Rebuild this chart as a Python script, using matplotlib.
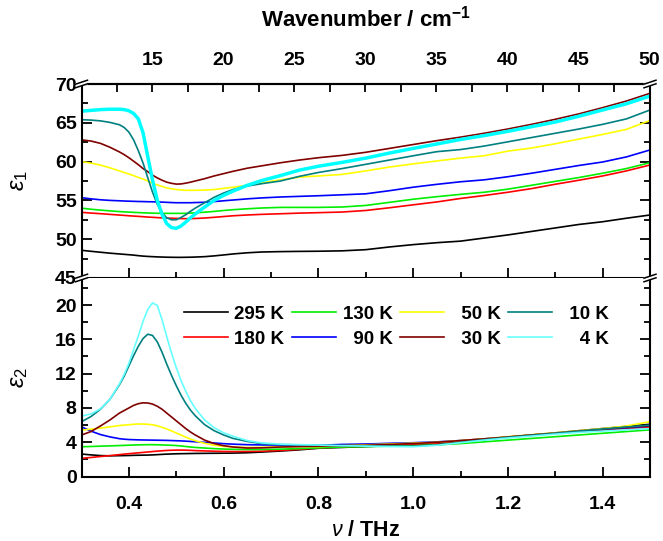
import matplotlib
matplotlib.use('Agg')
import matplotlib.pyplot as plt
from matplotlib.ticker import FixedLocator, MultipleLocator
from matplotlib.lines import Line2D
import numpy as np

plt.rcParams['font.family'] = ['Liberation Sans', 'DejaVu Sans']
plt.rcParams['font.weight'] = 'bold'
plt.rcParams['mathtext.fontset'] = 'custom'
plt.rcParams['mathtext.it'] = 'Liberation Sans:style=italic:weight=normal'
plt.rcParams['mathtext.rm'] = 'Liberation Sans:weight=normal'
plt.rcParams['mathtext.bf'] = 'Liberation Sans:weight=bold'

# frequency grid (THz)
nu = np.array([0.30, 0.32, 0.34, 0.36, 0.38, 0.39, 0.40, 0.41, 0.42, 0.43,
               0.44, 0.45, 0.46, 0.47, 0.48, 0.49, 0.50, 0.51, 0.52, 0.53,
               0.54, 0.56, 0.58, 0.60, 0.62, 0.65, 0.68, 0.72, 0.76, 0.80,
               0.85, 0.90, 0.95, 1.00, 1.05, 1.10, 1.15, 1.20, 1.25, 1.30,
               1.35, 1.40, 1.45, 1.50])

temps = ['295 K', '180 K', '130 K', '90 K', '50 K', '30 K', '10 K', '4 K']
colors = ['#000000', '#ff0000', '#00ee00', '#0000ff', '#ffff00', '#800000', '#008080', '#00ffff']

# eps1
e1_295 = [48.57, 48.44, 48.32, 48.2, 48.1, 48.05, 48.0, 47.95, 47.88, 47.82,
          47.78, 47.75, 47.72, 47.7, 47.68, 47.67, 47.66, 47.66, 47.67, 47.68,
          47.7, 47.75, 47.85, 47.97, 48.1, 48.25, 48.35, 48.4, 48.43, 48.45,
          48.5, 48.65, 49.0, 49.3, 49.55, 49.75, 50.15, 50.55, 51.0, 51.45,
          51.9, 52.25, 52.7, 53.12]
e1_180 = [53.46, 53.37, 53.29, 53.2, 53.11, 53.07, 53.02, 52.98, 52.94, 52.9,
          52.85, 52.82, 52.78, 52.75, 52.72, 52.7, 52.68, 52.66, 52.64, 52.65,
          52.67, 52.73, 52.82, 52.92, 53.02, 53.12, 53.2, 53.28, 53.36, 53.42,
          53.5, 53.7, 54.05, 54.43, 54.8, 55.25, 55.63, 56.05, 56.52, 57.08,
          57.6, 58.15, 58.8, 59.56]
e1_130 = [54.0, 53.86, 53.75, 53.65, 53.56, 53.52, 53.49, 53.46, 53.43, 53.4,
          53.38, 53.36, 53.34, 53.33, 53.33, 53.33, 53.33, 53.33, 53.33, 53.36,
          53.4, 53.48, 53.58, 53.7, 53.8, 53.92, 54.02, 54.1, 54.1, 54.1,
          54.15, 54.35, 54.75, 55.15, 55.48, 55.78, 56.05, 56.45, 56.95, 57.45,
          57.95, 58.5, 59.1, 59.86]
e1_90 = [55.35, 55.2, 55.08, 55.0, 54.95, 54.92, 54.9, 54.88, 54.86, 54.85,
         54.83, 54.82, 54.8, 54.78, 54.75, 54.72, 54.7, 54.7, 54.7, 54.7,
         54.72, 54.76, 54.85, 54.95, 55.05, 55.2, 55.32, 55.44, 55.52, 55.6,
         55.72, 55.85, 56.25, 56.7, 57.07, 57.4, 57.65, 58.05, 58.5, 59.0,
         59.5, 59.95, 60.6, 61.5]
e1_50 = [60.0, 59.8, 59.55, 59.2, 58.8, 58.6, 58.4, 58.2, 57.95, 57.75,
         57.5, 57.2, 57.0, 56.8, 56.6, 56.5, 56.4, 56.35, 56.3, 56.3,
         56.3, 56.33, 56.4, 56.55, 56.7, 56.95, 57.25, 57.65, 58.0, 58.15,
         58.35, 58.8, 59.3, 59.7, 60.08, 60.45, 60.75, 61.35, 61.75, 62.3,
         62.9, 63.5, 64.15, 65.3]
e1_30 = [62.8, 62.65, 62.35, 61.85, 61.25, 60.9, 60.5, 60.05, 59.6, 59.1,
         58.7, 58.25, 57.9, 57.6, 57.35, 57.2, 57.1, 57.12, 57.22, 57.35,
         57.5, 57.8, 58.15, 58.45, 58.75, 59.15, 59.45, 59.85, 60.2, 60.5,
         60.8, 61.2, 61.7, 62.2, 62.7, 63.15, 63.65, 64.2, 64.8, 65.45,
         66.15, 66.95, 67.8, 68.8]
e1_10 = [65.4, 65.35, 65.25, 65.05, 64.75, 64.4, 63.8, 62.8, 61.4, 59.8,
         57.9, 56.05, 54.5, 53.4, 52.75, 52.5, 52.5, 52.8, 53.15, 53.6,
         54.0, 54.7, 55.4, 55.95, 56.4, 56.85, 57.15, 57.5, 58.1, 58.6,
         59.1, 59.65, 60.2, 60.75, 61.28, 61.55, 62.0, 62.55, 63.1, 63.65,
         64.2, 64.8, 65.5, 66.65]
e1_4 = [66.5, 66.6, 66.7, 66.75, 66.75, 66.7, 66.55, 66.2, 65.5, 63.7,
        60.6, 57.6, 55.0, 53.2, 52.0, 51.5, 51.4, 51.7, 52.2, 52.75,
        53.25, 54.15, 55.0, 55.65, 56.2, 56.95, 57.55, 58.2, 58.9, 59.4,
        59.9, 60.45, 61.1, 61.7, 62.27, 62.85, 63.35, 63.9, 64.5, 65.1,
        65.85, 66.65, 67.45, 68.45]

# eps2
e2_295 = [2.63, 2.53, 2.45, 2.42, 2.44, 2.45, 2.46, 2.48, 2.49, 2.5,
          2.51, 2.53, 2.56, 2.59, 2.62, 2.64, 2.66, 2.67, 2.68, 2.69,
          2.7, 2.71, 2.72, 2.73, 2.74, 2.78, 2.86, 2.98, 3.12, 3.3,
          3.4, 3.5, 3.6, 3.7, 3.85, 4.1, 4.35, 4.6, 4.85, 5.1,
          5.35, 5.6, 5.85, 6.1]
e2_180 = [2.13, 2.23, 2.34, 2.45, 2.56, 2.62, 2.67, 2.72, 2.77, 2.82,
          2.87, 2.92, 2.97, 3.01, 3.05, 3.07, 3.09, 3.09, 3.08, 3.06,
          3.03, 2.99, 2.96, 2.93, 2.92, 2.93, 2.96, 3.05, 3.18, 3.35,
          3.45, 3.55, 3.65, 3.75, 3.9, 4.12, 4.35, 4.6, 4.85, 5.05,
          5.25, 5.45, 5.6, 5.75]
e2_130 = [3.48, 3.51, 3.55, 3.58, 3.62, 3.64, 3.66, 3.68, 3.7, 3.71,
          3.72, 3.72, 3.71, 3.69, 3.67, 3.65, 3.62, 3.57, 3.51, 3.45,
          3.4, 3.33, 3.26, 3.21, 3.18, 3.16, 3.16, 3.2, 3.27, 3.35,
          3.45, 3.5, 3.55, 3.6, 3.7, 3.85, 4.05, 4.25, 4.45, 4.65,
          4.85, 5.05, 5.25, 5.45]
e2_90 = [5.8, 5.3, 4.9, 4.63, 4.42, 4.36, 4.32, 4.3, 4.28, 4.27,
         4.26, 4.25, 4.24, 4.23, 4.22, 4.2, 4.18, 4.16, 4.13, 4.1,
         4.06, 3.99, 3.92, 3.84, 3.78, 3.72, 3.69, 3.68, 3.66, 3.65,
         3.75, 3.8, 3.88, 3.95, 4.05, 4.2, 4.4, 4.6, 4.85, 5.05,
         5.28, 5.5, 5.7, 5.9]
e2_50 = [5.43, 5.52, 5.65, 5.8, 5.95, 6.0, 6.05, 6.1, 6.13, 6.13,
         6.1, 6.04, 5.92, 5.75, 5.55, 5.33, 5.08, 4.85, 4.6, 4.38,
         4.18, 3.88, 3.65, 3.52, 3.45, 3.4, 3.42, 3.47, 3.5, 3.5,
         3.6, 3.7, 3.8, 3.9, 4.0, 4.2, 4.4, 4.65, 4.88, 5.1,
         5.35, 5.6, 5.9, 6.4]
e2_30 = [4.85, 5.25, 5.9, 6.6, 7.4, 7.7, 8.0, 8.3, 8.5, 8.6,
         8.58, 8.45, 8.2, 7.85, 7.4, 6.95, 6.5, 6.05, 5.6, 5.2,
         4.85, 4.25, 3.85, 3.6, 3.45, 3.33, 3.35, 3.45, 3.5, 3.55,
         3.6, 3.65, 3.75, 3.85, 4.0, 4.2, 4.4, 4.62, 4.85, 5.05,
         5.3, 5.5, 5.75, 5.95]
e2_10 = [6.4, 7.0, 7.85, 9.0, 10.7, 11.7, 12.9, 14.1, 15.2, 16.1,
         16.6, 16.45, 15.7, 14.5, 13.1, 11.8, 10.6, 9.5, 8.55, 7.75,
         7.1, 6.05, 5.35, 4.85, 4.45, 4.1, 3.85, 3.73, 3.7, 3.67,
         3.62, 3.58, 3.55, 3.55, 3.7, 4.0, 4.3, 4.58, 4.82, 5.05,
         5.3, 5.55, 5.78, 6.0]
e2_4 = [7.05, 7.3, 7.9, 9.0, 10.8, 11.9, 13.2, 14.8, 16.4, 18.1,
        19.5, 20.25, 19.95, 18.3, 16.3, 14.4, 12.7, 11.2, 9.95, 8.85,
        7.95, 6.6, 5.7, 5.1, 4.7, 4.2, 3.92, 3.78, 3.72, 3.68,
        3.6, 3.55, 3.5, 3.48, 3.65, 3.95, 4.25, 4.5, 4.72, 4.95,
        5.15, 5.3, 5.45, 5.6]

eps1 = [e1_295, e1_180, e1_130, e1_90, e1_50, e1_30, e1_10, e1_4]
eps2 = [e2_295, e2_180, e2_130, e2_90, e2_50, e2_30, e2_10, e2_4]

W, H = 663, 541
fig = plt.figure(figsize=(W / 100, H / 100), dpi=100)
L, R, T, M, B = 81.5, 650, 84, 278, 476.6
ax1 = fig.add_axes([L / W, 1 - M / H, (R - L) / W, (M - T) / H])
ax2 = fig.add_axes([L / W, 1 - B / H, (R - L) / W, (B - M) / H])

for i in range(8):
    lw = 2.5 if i == 7 else 1.2
    ax1.plot(nu, eps1[i], color=colors[i], lw=lw)
    c2 = '#66ffff' if i == 7 else colors[i]
    ax2.plot(nu, eps2[i], color=c2, lw=1.2, label=temps[i])

for ax in (ax1, ax2):
    ax.set_xlim(0.3, 1.5)
    ax.xaxis.set_major_locator(FixedLocator([0.4, 0.6, 0.8, 1.0, 1.2, 1.4]))
    ax.xaxis.set_minor_locator(MultipleLocator(0.1))
    for s in ax.spines.values():
        s.set_linewidth(1.5)
    ax.tick_params(which='both', direction='in', width=1.3, labelsize=14, left=True, right=True)
    ax.tick_params(which='major', length=7)
    ax.tick_params(which='minor', length=4)

ax1.set_ylim(45, 70)
ax1.yaxis.set_major_locator(MultipleLocator(5))
ax1.yaxis.set_minor_locator(MultipleLocator(2.5))
ax1.tick_params(axis='x', which='both', top=False, bottom=True, labelbottom=False)

ax2.set_ylim(0, 23.15)
ax2.yaxis.set_major_locator(MultipleLocator(4))
ax2.yaxis.set_minor_locator(MultipleLocator(2))
ax2.spines['top'].set_visible(False)
ax2.tick_params(axis='x', which='both', top=False)
ax2.tick_params(axis='x', pad=14)

sec = ax1.secondary_xaxis('top', functions=(lambda f: f * 33.356, lambda k: k / 33.356))
sec.xaxis.set_major_locator(FixedLocator([15, 20, 25, 30, 35, 40, 45, 50]))
sec.xaxis.set_minor_locator(FixedLocator([12.5, 17.5, 22.5, 27.5, 32.5, 37.5, 42.5, 47.5]))
sec.tick_params(which='both', direction='in', length=6, width=1.3, labelsize=14, pad=11)
sec.spines['top'].set_linewidth(1.5)
sec.set_xlabel('Wavenumber / cm$^{\\mathbf{-1}}$', fontsize=16, fontweight='bold', labelpad=18)

ax1.set_ylabel(r'$\varepsilon_1$', fontsize=17)
ax1.yaxis.set_label_coords(-0.09, 0.5)
ax2.set_ylabel(r'$\varepsilon_2$', fontsize=17)
ax2.yaxis.set_label_coords(-0.09, 0.5)
ax2.set_xlabel(r'$\nu$ / THz', fontsize=15.5, fontweight='bold', labelpad=5)

leg = ax2.legend(ncol=4, loc='upper left', bbox_to_anchor=(0.18, 0.86), frameon=False,
                 fontsize=13.5, handlelength=2.35, handletextpad=0.35, columnspacing=0.4,
                 labelspacing=0.4, borderpad=0, borderaxespad=0)
for t in leg.get_texts():
    t.set_text(t.get_text().rjust(5, '\u2007'))

# axis break marks
for px, py in [(L, T), (R, T), (L, M), (R, M)]:
    fig.add_artist(Line2D([(px - 4) / W, (px + 4) / W], [1 - (py + 1) / H, 1 - (py - 1) / H],
                          color='white', lw=3))
    for o in (-1.8, 1.8):
        fig.add_artist(Line2D([(px - 6) / W, (px + 6) / W],
                              [1 - (py + 2 + o) / H, 1 - (py - 2 + o) / H],
                              color='black', lw=1.1))

fig.savefig('out.png', dpi=100)
